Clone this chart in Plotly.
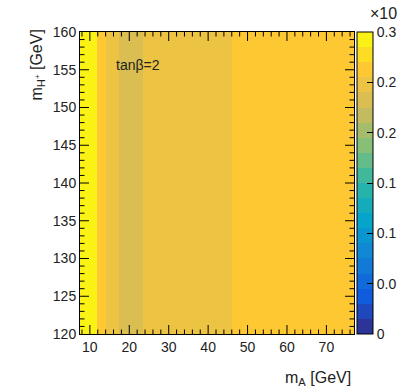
import numpy as np
import plotly.graph_objects as go

# ---- data ----
mA_edges = [7.5, 11.7, 14.0, 17.3, 23.4, 46.1, 77.0]   # GeV, bin edges in m_A
mH_edges = [120.0, 160.0]                              # GeV, bin edges in m_H+
z_vals = [0.292, 0.262, 0.247, 0.232, 0.247, 0.262]    # (x10^n) value per m_A bin
x_range = [7.5, 77.0]
y_range = [120.0, 160.0]
x_major = [10, 20, 30, 40, 50, 60, 70]
y_major = [120, 125, 130, 135, 140, 145, 150, 155, 160]
cb_tickvals = [0, 0.05, 0.10, 0.15, 0.20, 0.25, 0.30]
cb_ticktext = ["0", "0.0", "0.1", "0.1", "0.2", "0.2", "0.3"]
zmin, zmax, nlev = 0.0, 0.3, 20

# ROOT kBird palette
stops = [0.0, 0.125, 0.25, 0.375, 0.5, 0.625, 0.75, 0.875, 1.0]
red = [0.2082, 0.0592, 0.0780, 0.0232, 0.1802, 0.5301, 0.8186, 0.9956, 0.9764]
green = [0.1664, 0.3599, 0.5041, 0.6419, 0.7178, 0.7492, 0.7328, 0.7862, 0.9832]
blue = [0.5293, 0.8684, 0.8385, 0.7914, 0.6425, 0.4662, 0.3499, 0.1968, 0.0539]

def bird(f):
    r = np.interp(f, stops, red); g = np.interp(f, stops, green); b = np.interp(f, stops, blue)
    return "rgb(%d,%d,%d)" % (round(r * 255), round(g * 255), round(b * 255))

cscale = []
for i in range(nlev):
    c = bird((i + 0.5) / nlev)
    cscale.append([i / nlev, c])
    cscale.append([(i + 1) / nlev, c])

FONT = "Liberation Sans, Arial, Helvetica, sans-serif"
W, H = 401, 390
ML, MR, MT, MB = 80, 47, 32, 56
PW, PH = W - ML - MR, H - MT - MB

fig = go.Figure(go.Heatmap(
    x=mA_edges, y=mH_edges, z=[z_vals],
    zmin=zmin, zmax=zmax, colorscale=cscale,
    colorbar=dict(
        x=1.011, xanchor="left", xpad=0, ypad=0, y=0.5, yanchor="middle",
        len=1.0, lenmode="fraction", thickness=16, thicknessmode="pixels",
        outlinecolor="black", outlinewidth=1,
        tickmode="array", tickvals=cb_tickvals, ticktext=cb_ticktext,
        ticks="inside", ticklen=6, tickcolor="black", tickwidth=1,
        tickfont=dict(family=FONT, size=14, color="#222"),
    ),
    hoverinfo="skip",
))

axis_common = dict(
    showline=True, linecolor="black", linewidth=1, mirror=True,
    ticks="", showgrid=False, zeroline=False,
    tickfont=dict(family=FONT, size=14, color="#222"),
)
fig.update_xaxes(range=x_range, tickmode="array", tickvals=x_major, **axis_common)
fig.update_yaxes(range=y_range, tickmode="array", tickvals=y_major, **axis_common)

# inside ticks on all four sides (ROOT style), placed via axis coordinates
shapes = []
tk = dict(color="black", width=1)
def xtick(v, L):
    shapes.append(dict(type="line", xref="x", yref="paper", x0=v, x1=v, y0=0, y1=L / PH, line=tk, layer="above"))
    shapes.append(dict(type="line", xref="x", yref="paper", x0=v, x1=v, y0=1, y1=1 - L / PH, line=tk, layer="above"))
def ytick(v, L):
    shapes.append(dict(type="line", xref="paper", yref="y", y0=v, y1=v, x0=0, x1=L / PW, line=tk, layer="above"))
    shapes.append(dict(type="line", xref="paper", yref="y", y0=v, y1=v, x0=1, x1=1 - L / PW, line=tk, layer="above"))

for v in np.arange(8, 77, 2):
    xtick(v, 9 if v in x_major else 4.5)
for v in np.arange(121, 160, 1):
    ytick(v, 9 if v in y_major else 4.5)

fig.update_layout(
    width=W, height=H,
    margin=dict(l=ML, r=MR, t=MT, b=MB, autoexpand=False),
    paper_bgcolor="white", plot_bgcolor="white",
    showlegend=False,
    shapes=shapes,
    annotations=[
        dict(text="tanβ=2", x=0.125, y=0.89, xref="paper", yref="paper",
             xanchor="left", yanchor="middle", showarrow=False,
             font=dict(family=FONT, size=14, color="#222")),
        dict(text="m<sub>A</sub> [GeV]", x=0.995, y=-0.11, xref="paper", yref="paper",
             xanchor="right", yanchor="top", showarrow=False,
             font=dict(family=FONT, size=16, color="#222")),
        dict(text="m<sub>H<sup>+</sup></sub> [GeV]", x=-0.155, y=1.015, xref="paper", yref="paper",
             xanchor="center", yanchor="top", textangle=-90, showarrow=False,
             font=dict(family=FONT, size=16, color="#222")),
        dict(text="×10", x=(W - 2 - ML) / PW, y=1.025, xref="paper", yref="paper",
             xanchor="right", yanchor="bottom", showarrow=False,
             font=dict(family=FONT, size=16, color="#222")),
    ],
)

fig.write_html("out.html")
